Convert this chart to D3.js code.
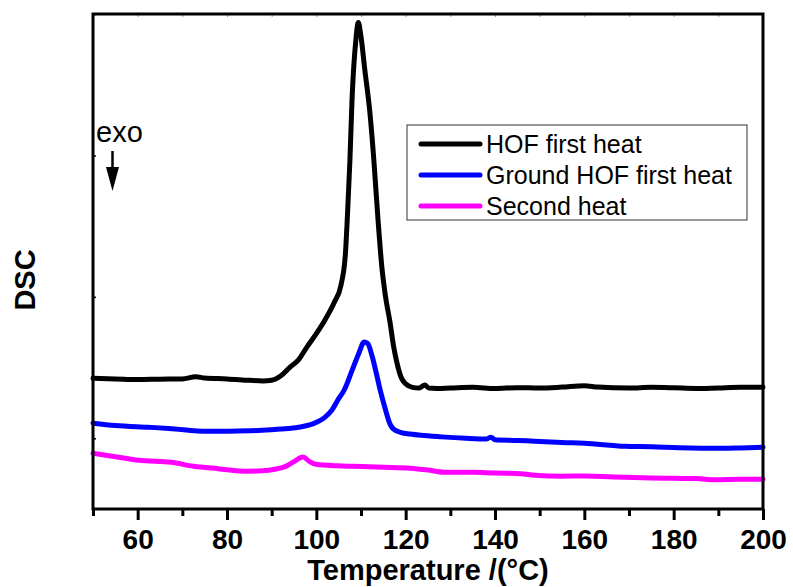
<!DOCTYPE html>
<html>
<head>
<meta charset="utf-8">
<script src="https://cdn.jsdelivr.net/npm/d3@7"></script>
<style>
  body { margin: 0; background: #fff; }
  svg { display: block; font-family: "Liberation Sans", Arial, sans-serif; }
</style>
</head>
<body>
<svg width="793" height="587"></svg>
<script>
// DSC curves (temperature in degC, signal in arbitrary units)
var hofT = [50, 55, 60, 65, 70, 73, 75, 80, 85, 88, 90, 92, 94, 96, 98, 100, 102, 104, 105.5, 106.5, 107, 107.5, 108, 108.8, 109.4, 110, 110.8, 112, 112.8, 113.8, 114.7, 115.5, 116.5, 117.3, 118, 119, 120, 121.5, 123, 124.3, 125.2, 127, 130, 135, 140, 145, 150, 155, 160, 163, 170, 175, 180, 185, 190, 195, 200];
var hofV = [0.424, 0.42, 0.415, 0.418, 0.42, 0.435, 0.426, 0.42, 0.41, 0.405, 0.41, 0.44, 0.5, 0.555, 0.65, 0.74, 0.84, 0.96, 1.08, 1.3, 1.6, 1.95, 2.4, 2.8, 2.94, 2.84, 2.62, 2.3, 2.0, 1.55, 1.2, 1.0, 0.82, 0.65, 0.54, 0.43, 0.385, 0.36, 0.355, 0.376, 0.355, 0.352, 0.355, 0.36, 0.352, 0.358, 0.355, 0.362, 0.372, 0.362, 0.355, 0.36, 0.357, 0.352, 0.356, 0.36, 0.361];

var groundT = [50, 55, 62.3, 67, 75.5, 80, 87.8, 92, 96, 99, 101.9, 103.5, 105, 106.2, 108, 109.5, 110.7, 111.5, 112.5, 113.5, 114.3, 115.5, 116.5, 117.3, 119, 121, 123.4, 128, 133.5, 138, 139.1, 140, 145, 148.9, 155, 160, 169.1, 175, 180, 189.5, 195, 200];
var groundV = [0.107, 0.09, 0.078, 0.07, 0.049, 0.05, 0.056, 0.065, 0.078, 0.1, 0.148, 0.2, 0.28, 0.339, 0.48, 0.6, 0.68, 0.67, 0.58, 0.45, 0.34, 0.2, 0.1, 0.064, 0.04, 0.03, 0.021, 0.01, 0.0, -0.005, 0.008, -0.01, -0.015, -0.021, -0.03, -0.035, -0.057, -0.06, -0.065, -0.071, -0.068, -0.064];

var secondT = [50, 55, 60.3, 67.5, 72.5, 78, 84.7, 88, 90.7, 93, 95, 97, 98.5, 99.9, 105, 108, 115, 121, 125, 128.6, 135, 140, 145.8, 148.9, 155, 160, 169.1, 175, 180, 185, 189.5, 195, 200];
var secondV = [-0.106, -0.13, -0.156, -0.17, -0.198, -0.215, -0.233, -0.23, -0.219, -0.2, -0.165, -0.132, -0.165, -0.184, -0.195, -0.198, -0.205, -0.212, -0.225, -0.24, -0.24, -0.245, -0.25, -0.262, -0.268, -0.267, -0.276, -0.28, -0.283, -0.285, -0.293, -0.29, -0.29];

var seriesNames = ["HOF first heat", "Ground HOF first heat", "Second heat"];
var seriesColors = ["#000000", "#0000ff", "#ff00ff"];
var xMajorTicks = [60, 80, 100, 120, 140, 160, 180, 200];
var xMinorTicks = [50, 70, 90, 110, 130, 150, 170, 190];
var yTicks = [0, 1, 2, 3];

var series = [
  hofT.map(function(t, i) { return { t: t, v: hofV[i] }; }),
  groundT.map(function(t, i) { return { t: t, v: groundV[i] }; }),
  secondT.map(function(t, i) { return { t: t, v: secondV[i] }; })
];

var svgWidth = 793, svgHeight = 587;
var margin = { top: 14, right: 30, bottom: 78, left: 93 };
var width = svgWidth - margin.left - margin.right;
var height = svgHeight - margin.top - margin.bottom;

var svg = d3.select('svg');
var g = svg.append('g')
  .attr('transform', 'translate(' + margin.left + ',' + margin.top + ')');

var x = d3.scaleLinear().domain([50, 200]).range([0, width]);
var y = d3.scaleLinear().domain([-0.5, 3]).range([height, 0]);

var line = d3.line()
  .x(function(d) { return x(d.t); })
  .y(function(d) { return y(d.v); })
  .curve(d3.curveMonotoneX);

// curves (drawn before the frame so the frame sits on top)
series.forEach(function(s, i) {
  g.append('path')
    .datum(s)
    .attr('fill', 'none')
    .attr('stroke', seriesColors[i])
    .attr('stroke-width', 5)
    .attr('stroke-linejoin', 'round')
    .attr('stroke-linecap', 'round')
    .attr('d', line);
});

// bottom axis: major labelled ticks + minor ticks
var xAxis = g.append('g')
  .attr('transform', 'translate(0,' + height + ')')
  .call(d3.axisBottom(x).tickValues(xMajorTicks).tickSize(11).tickPadding(9));
xAxis.select('.domain').remove();
xAxis.selectAll('line').attr('stroke', '#000').attr('stroke-width', 3);
xAxis.selectAll('text')
  .attr('fill', '#000')
  .style('font-size', '28px')
  .style('font-weight', 'bold');

var xMinor = g.append('g')
  .attr('transform', 'translate(0,' + height + ')')
  .call(d3.axisBottom(x).tickValues(xMinorTicks).tickSize(7).tickFormat(''));
xMinor.select('.domain').remove();
xMinor.selectAll('line').attr('stroke', '#000').attr('stroke-width', 3);

// left axis: small inward ticks, no labels
var yAxis = g.append('g')
  .call(d3.axisRight(y).tickValues(yTicks).tickSize(3).tickFormat(''));
yAxis.select('.domain').remove();
yAxis.selectAll('line').attr('stroke', '#000').attr('stroke-width', 1.5);

// top axis: faint inward ticks
var topAxis = g.append('g')
  .call(d3.axisBottom(x).tickValues(xMajorTicks.concat(xMinorTicks)).tickSize(3).tickFormat(''));
topAxis.select('.domain').remove();
topAxis.selectAll('line').attr('stroke', '#999').attr('stroke-width', 1);

// frame
g.append('rect')
  .attr('x', 0).attr('y', 0)
  .attr('width', width).attr('height', height)
  .attr('fill', 'none')
  .attr('stroke', '#000')
  .attr('stroke-width', 3);

// axis titles
svg.append('text')
  .attr('x', margin.left + width / 2)
  .attr('y', 580)
  .attr('text-anchor', 'middle')
  .style('font-size', '29px')
  .style('font-weight', 'bold')
  .text('Temperature /(\u00B0C)');

svg.append('text')
  .attr('transform', 'translate(35,280) rotate(-90)')
  .attr('text-anchor', 'middle')
  .style('font-size', '29px')
  .style('font-weight', 'bold')
  .text('DSC');

// exo annotation with arrow
svg.append('text')
  .attr('x', 96)
  .attr('y', 142)
  .style('font-size', '29px')
  .text('exo');

svg.append('line')
  .attr('x1', 112.5).attr('x2', 112.5)
  .attr('y1', 151).attr('y2', 172)
  .attr('stroke', '#000')
  .attr('stroke-width', 2.5);

svg.append('path')
  .attr('d', 'M106,167 L119,167 L112.5,191 Z')
  .attr('fill', '#000');

// legend
var legend = svg.append('g').attr('transform', 'translate(407,125)');
legend.append('rect')
  .attr('width', 340).attr('height', 95)
  .attr('fill', '#fff')
  .attr('stroke', '#333')
  .attr('stroke-width', 1);

seriesNames.forEach(function(name, i) {
  var ly = 19 + i * 31;
  legend.append('line')
    .attr('x1', 14).attr('x2', 73)
    .attr('y1', ly).attr('y2', ly)
    .attr('stroke', seriesColors[i])
    .attr('stroke-width', 5)
    .attr('stroke-linecap', 'round');
  legend.append('text')
    .attr('x', 79)
    .attr('y', ly + 9)
    .style('font-size', '25px')
    .text(name);
});
</script>
</body>
</html>
